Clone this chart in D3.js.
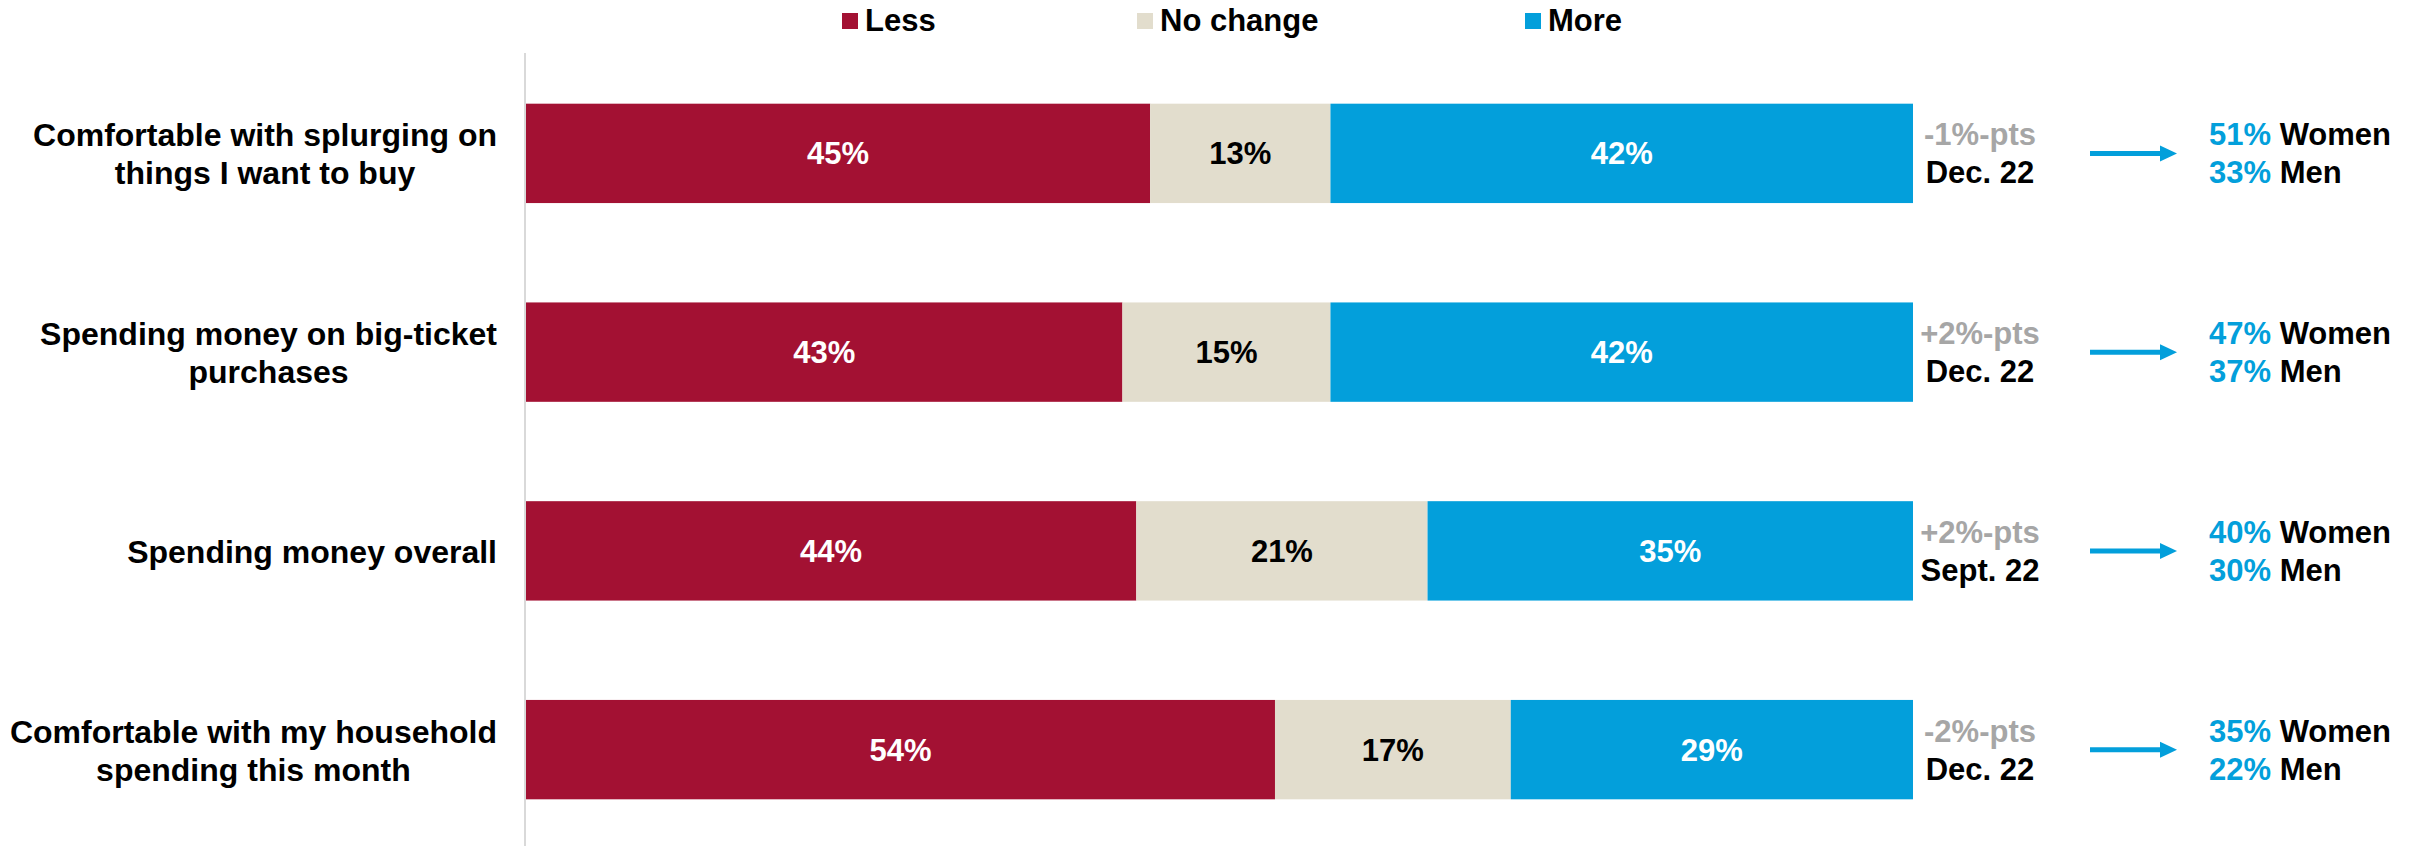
<!DOCTYPE html>
<html><head><meta charset="utf-8">
<script src="https://cdn.jsdelivr.net/npm/d3@7"></script>
<style>body{margin:0;background:#fff}svg{display:block}text{font-family:"Liberation Sans",Arial,sans-serif;font-weight:bold}</style>
</head><body><svg id="c" width="2427" height="846"></svg>
<script>
const categories = [
  ["Comfortable with splurging on", "things I want to buy"],
  ["Spending money on big-ticket", "purchases"],
  ["Spending money overall"],
  ["Comfortable with my household", "spending this month"]
];
const seriesNames = ["Less", "No change", "More"];
const lessValues = [45, 43, 44, 54];
const noChangeValues = [13, 15, 21, 17];
const moreValues = [42, 42, 35, 29];
const changeLabels = ["-1%-pts", "+2%-pts", "+2%-pts", "-2%-pts"];
const sinceLabels = ["Dec. 22", "Dec. 22", "Sept. 22", "Dec. 22"];
const womenValues = [51, 47, 40, 35];
const menValues = [33, 37, 30, 22];

const colors = ["#A31133", "#E2DDCD", "#039FDB"];
const labelColors = ["#fff", "#000", "#fff"];
const svg = d3.select("#c");

const x = d3.scaleLinear().domain([0, 100]).range([526, 1913]);
const y = d3.scaleBand().domain(d3.range(categories.length)).range([54, 849]).paddingInner(0.5).paddingOuter(0.25);

const rows = categories.map((c, i) => ({i, vals: [lessValues[i], noChangeValues[i], moreValues[i]]}));
const stackData = rows.map(r => {
  let acc = 0;
  return r.vals.map((v, k) => { const s = {row: r.i, k, v, x0: acc, x1: acc + v}; acc += v; return s; });
}).flat();

// axis line
svg.append("line").attr("x1", x(0) - 1).attr("x2", x(0) - 1).attr("y1", 53).attr("y2", 846)
  .attr("stroke", "#d9d9d9").attr("stroke-width", 2);

svg.selectAll("rect.bar").data(stackData).join("rect").attr("class", "bar")
  .attr("x", d => x(d.x0)).attr("width", d => x(d.x1) - x(d.x0))
  .attr("y", d => y(d.row)).attr("height", y.bandwidth())
  .attr("fill", d => colors[d.k]);

svg.selectAll("text.val").data(stackData).join("text").attr("class", "val")
  .attr("x", d => (x(d.x0) + x(d.x1)) / 2).attr("y", d => y(d.row) + y.bandwidth() / 2 + 11)
  .attr("text-anchor", "middle").attr("font-size", 31).attr("fill", d => labelColors[d.k])
  .text(d => d.v + "%");

// category labels: block right-aligned, lines centered within block
categories.forEach((lines, i) => {
  const cy = y(i) + y.bandwidth() / 2;
  const g = svg.append("g");
  const ts = lines.map((l, j) => g.append("text").attr("font-size", 32).attr("text-anchor", "middle")
    .attr("y", cy + (j - (lines.length - 1) / 2) * 38 + 12).text(l));
  const maxW = d3.max(ts, t => t.node().getComputedTextLength());
  const cx = 497 - maxW / 2;
  ts.forEach(t => t.attr("x", cx));
});

// right annotations
rows.forEach(r => {
  const cy = y(r.i) + y.bandwidth() / 2;
  svg.append("text").attr("x", 1980).attr("y", cy - 8).attr("text-anchor", "middle")
    .attr("font-size", 31).attr("fill", "#A6A6A6").text(changeLabels[r.i]);
  svg.append("text").attr("x", 1980).attr("y", cy + 30).attr("text-anchor", "middle")
    .attr("font-size", 31).attr("fill", "#000").text(sinceLabels[r.i]);
  // arrow
  svg.append("line").attr("x1", 2090).attr("x2", 2162).attr("y1", cy).attr("y2", cy)
    .attr("stroke", "#039FDB").attr("stroke-width", 5);
  svg.append("path").attr("d", `M2160,${cy - 8}L2177,${cy}L2160,${cy + 8}Z`).attr("fill", "#039FDB");
  const t1 = svg.append("text").attr("x", 2209).attr("y", cy - 8).attr("font-size", 31);
  t1.append("tspan").attr("fill", "#039FDB").text(womenValues[r.i] + "%");
  t1.append("tspan").attr("fill", "#000").text(" Women");
  const t2 = svg.append("text").attr("x", 2209).attr("y", cy + 30).attr("font-size", 31);
  t2.append("tspan").attr("fill", "#039FDB").text(menValues[r.i] + "%");
  t2.append("tspan").attr("fill", "#000").text(" Men");
});

// legend
const legX = [842, 1137, 1525];
seriesNames.forEach((n, k) => {
  svg.append("rect").attr("x", legX[k]).attr("y", 13).attr("width", 16).attr("height", 16).attr("fill", colors[k]);
  svg.append("text").attr("x", legX[k] + 23).attr("y", 31).attr("font-size", 31).text(n);
});
</script></body></html>
